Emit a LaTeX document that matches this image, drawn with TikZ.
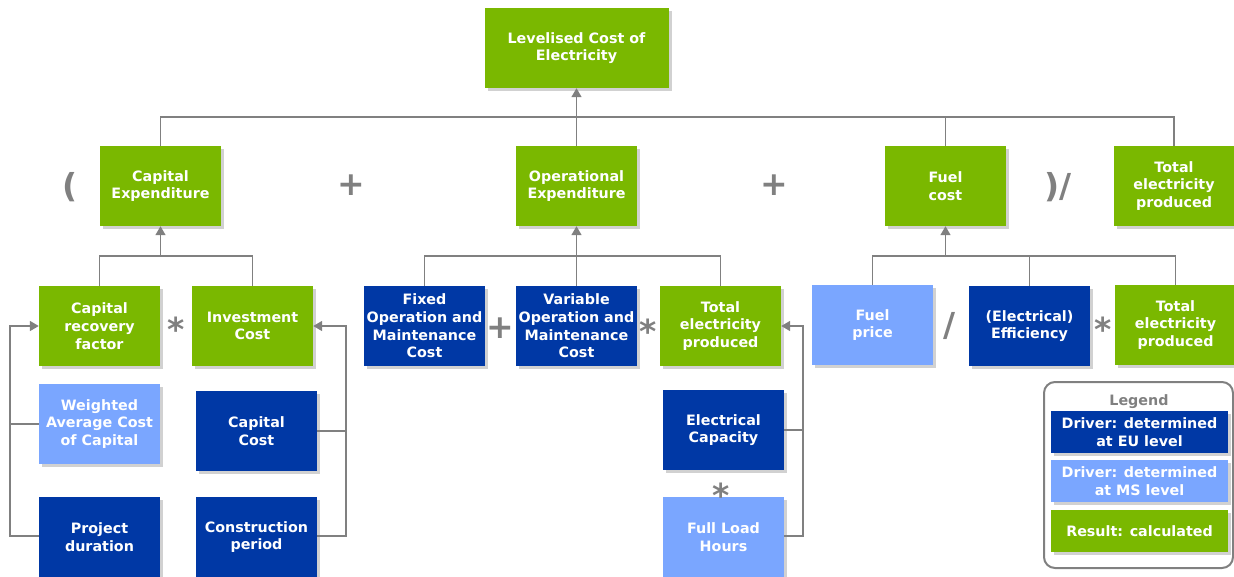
\documentclass[tikz,border=0pt]{standalone}
\usepackage{fontspec}
\setmainfont{DejaVu Sans}
\usetikzlibrary{shadows,arrows.meta}
\definecolor{grn}{RGB}{122,184,0}
\definecolor{dblue}{RGB}{0,56,165}
\definecolor{lblue}{RGB}{122,166,255}
\definecolor{lgray}{RGB}{128,128,128}
\tikzset{
  box/.style={minimum width=121pt, minimum height=80pt, inner sep=0pt, align=center,
    text=white, font=\fontsize{14.3}{17.7}\selectfont\bfseries,
    drop shadow={shadow xshift=3pt, shadow yshift=-3pt, opacity=0.3, fill=black!60}},
  res/.style={box, fill=grn},
  eu/.style={box, fill=dblue},
  ms/.style={box, fill=lblue},
  lbox/.style={box, minimum width=177pt, minimum height=42pt},
  op/.style={text=lgray, font=\fontsize{33}{33}\selectfont\bfseries, inner sep=0pt},
  conn/.style={draw=lgray, line width=1.6pt},
  arr/.style={conn, -{Triangle[width=10pt,length=9pt]}}
}
\begin{document}
\begin{tikzpicture}[x=1pt,y=-1pt]
\useasboundingbox (0,0) rectangle (1234,576);
% top
\node[res, minimum width=184pt] (lcoe) at (576.5,48) {Levelised Cost of\\Electricity};
\node[res] (capex) at (160.5,186) {Capital\\Expenditure};
\node[res] (opex) at (576.5,186) {Operational\\Expenditure};
\node[res] (fuel) at (945.5,186) {Fuel\\cost};
\node[res] (tep1) at (1174,186) {Total\\electricity\\produced};
% operators top
\node[op] (o1) at (70,187) {(};
\node[op] (o2) at (351,185) {+};
\node[op] (o3) at (774,185) {+};
\node[op] (o4) at (1058,187) {)/};
% capex children
\node[res] (crf) at (99.5,326) {Capital\\recovery\\factor};
\node[res] (ic) at (252.5,326) {Investment\\Cost};
\node[op] (o5) at (176,329) {*};
\node[ms] (wacc) at (99.5,424) {Weighted\\Average Cost\\of Capital};
\node[eu] (cc) at (256.5,431) {Capital\\Cost};
\node[eu] (pd) at (99.5,537) {Project\\duration};
\node[eu] (cp) at (256.5,537) {Construction\\period};
% opex children
\node[eu] (fom) at (424.5,326) {Fixed\\Operation and\\Maintenance\\Cost};
\node[eu] (vom) at (576.5,326) {Variable\\Operation and\\Maintenance\\Cost};
\node[res] (tep2) at (720.5,326) {Total\\electricity\\produced};
\node[op] (o6) at (500,328) {+};
\node[op] (o7) at (648,331) {*};
\node[eu] (ec) at (723.5,430) {Electrical\\Capacity};
\node[ms] (flh) at (723.5,537) {Full Load\\Hours};
\node[op] (o8) at (721,495) {*};
% fuel children
\node[ms] (fp) at (872.5,325) {Fuel\\price};
\node[eu] (eff) at (1029.5,326) {(Electrical)\\Efficiency};
\node[res] (tep3) at (1175.5,325) {Total\\electricity\\produced};
\node[op] (o9) at (950,326) {/};
\node[op] (o10) at (1103,329) {*};
% legend
\node[draw=lgray, line width=2pt, rounded corners=11pt, minimum width=189pt, minimum height=186pt, inner sep=0pt] (leg) at (1138.5,475) {};
\node[text=lgray, font=\fontsize{14.3}{17}\selectfont\bfseries] (legt) at (1139,402) {Legend};
\node[lbox, fill=dblue] (l1) at (1139.5,432) {Driver: determined\\at EU level};
\node[lbox, fill=lblue] (l2) at (1139.5,481) {Driver: determined\\at MS level};
\node[lbox, fill=grn] (l3) at (1139.5,531) {Result: calculated};
% connectors top
\coordinate (b0) at (576.5,117);
\draw[conn] (capex.north) |- (b0) -| (tep1.north);
\draw[conn] (fuel.north) -- (fuel.north |- b0);
\draw[arr] (opex.north) -- (lcoe.south);
% capex
\coordinate (b1) at (160.5,256);
\draw[conn] (crf.north) |- (b1) -| (ic.north);
\draw[arr] (b1) -- (capex.south);
\coordinate (lb) at (10,536);
\draw[arr] (pd.west |- lb) -- (lb) |- (crf.west);
\draw[conn] (wacc.west) -- (wacc.west -| lb);
\coordinate (rb) at (346,536);
\draw[arr] (cp.east |- rb) -- (rb) |- (ic.east);
\draw[conn] (cc.east) -- (cc.east -| rb);
% opex
\coordinate (b2) at (576.5,256);
\draw[conn] (fom.north) |- (b2) -| (tep2.north);
\draw[arr] (vom.north) -- (opex.south);
\coordinate (mb) at (803,536);
\draw[arr] (flh.east |- mb) -- (mb) |- (tep2.east);
\draw[conn] (ec.east) -- (ec.east -| mb);
% fuel
\coordinate (b3) at (945.5,256);
\draw[conn] (fp.north) |- (b3) -| (tep3.north);
\draw[conn] (eff.north) -- (eff.north |- b3);
\draw[arr] (b3) -- (fuel.south);
\end{tikzpicture}
\end{document}
